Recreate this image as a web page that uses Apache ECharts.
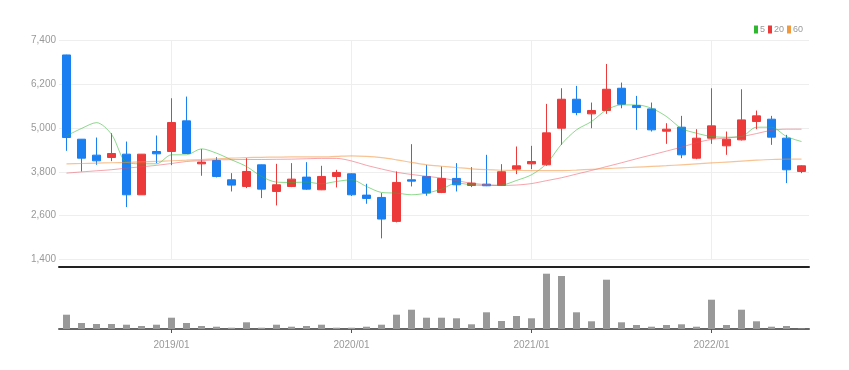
<!DOCTYPE html>
<html>
<head>
<meta charset="utf-8">
<script src="https://cdn.jsdelivr.net/npm/echarts@6/dist/echarts.min.js"></script>
<style>
html,body{margin:0;padding:0;background:#fff;}
#main{width:849px;height:370px;}
</style>
</head>
<body>
<div id="main"></div>
<script>
var months = ['2018/06','2018/07','2018/08','2018/09','2018/10','2018/11','2018/12',
'2019/01','2019/02','2019/03','2019/04','2019/05','2019/06','2019/07','2019/08','2019/09','2019/10','2019/11','2019/12',
'2020/01','2020/02','2020/03','2020/04','2020/05','2020/06','2020/07','2020/08','2020/09','2020/10','2020/11','2020/12',
'2021/01','2021/02','2021/03','2021/04','2021/05','2021/06','2021/07','2021/08','2021/09','2021/10','2021/11','2021/12',
'2022/01','2022/02','2022/03','2022/04','2022/05','2022/06','2022/07'];

var openP  = [7004,4696,4259,4195,4286,3173,4359,4359,5198,4021,4113,3584,3401,3994,3264,3401,3657,3310,3675,3748,3164,3100,2444,3584,3675,3237,3621,3429,3465,3429,3876,4021,3994,4997,5791,5390,5481,6092,5617,5526,4915,5025,4176,4724,4514,4678,5180,5244,4724,3812];
var closeP = [4742,4176,4103,4304,3173,4286,4295,5152,4304,4068,3675,3438,3812,3328,3447,3602,3328,3675,3784,3173,3073,2508,3511,3547,3219,3621,3447,3493,3420,3803,3967,4085,4870,5791,5426,5481,6064,5654,5563,4952,4970,4268,4724,5061,4696,5225,5335,4752,3858,3967];
var lowP   = [4377,3812,3994,4094,2836,3170,4040,3985,4300,3694,3648,3264,3356,3082,2881,3383,3310,3300,3374,3140,2927,1979,2416,3401,3146,3219,3264,3383,3410,3420,3739,3876,3967,4541,5353,4997,5390,5544,4952,4906,4569,4176,4149,4569,4268,4660,4970,4541,3493,3766];
var highP  = [7010,4700,4742,4860,4632,4290,4797,5818,5864,4424,4204,3766,4176,4000,4021,4040,4067,3967,3857,3760,3474,3219,3812,4560,3994,3948,4040,3930,4268,4012,4496,4514,5663,6092,6156,5700,6757,6247,5882,5700,5134,5335,4970,6092,4906,6064,5481,5335,4815,3980];

var ma5  = [4790,4990,5150,4830,4060,4022,4022,4268,4268,4432,4313,4131,3948,3675,3520,3511,3520,3474,3538,3584,3401,3237,3219,3173,3219,3328,3493,3447,3429,3438,3566,3721,4021,4560,4952,5180,5499,5636,5636,5544,5317,4990,4860,4769,4751,4769,5025,5025,4769,4632];
var ma20 = [3766,3800,3830,3860,3903,3940,3980,4030,4085,4110,4130,4135,4140,4140,4145,4150,4160,4170,4170,4100,3980,3880,3790,3730,3680,3630,3560,3490,3450,3430,3440,3480,3560,3640,3740,3840,3945,4050,4160,4265,4370,4478,4600,4690,4730,4770,4850,4940,4970,4970];
var ma60 = [4020,4030,4040,4050,4060,4075,4090,4105,4120,4140,4160,4180,4190,4200,4205,4210,4210,4210,4225,4240,4225,4190,4130,4060,3995,3955,3920,3885,3860,3845,3840,3835,3835,3835,3850,3870,3890,3910,3930,3950,3970,3995,4020,4045,4070,4095,4120,4140,4150,4150];

var volume = [143000,60000,50000,50000,43000,30000,43000,113000,60000,30000,23000,13000,67000,13000,43000,23000,30000,43000,13000,13000,23000,43000,143000,193000,113000,113000,107000,47000,167000,80000,130000,107000,553000,530000,167000,77000,493000,67000,40000,23000,40000,47000,23000,293000,40000,193000,77000,23000,30000,5000];

var yTicks = {min: 1400, max: 7400, interval: 1200};
var legendNames = ['5','20','60'];

var candleData = openP.map(function(o,i){ return [o, closeP[i], lowP[i], highP[i]]; });
var FONT = '"Liberation Sans Narrow", "Liberation Sans", sans-serif';
function isJan(i, v){ return months[i] && months[i].slice(5) === '01'; }
var janLines = months.filter(function(m, i){ return isJan(i); }).map(function(m){ return {xAxis: m}; });

var chart = echarts.init(document.getElementById('main'), null, {renderer:'canvas'});
chart.setOption({
  animation: false,
  backgroundColor: '#fff',
  legend: {
    data: legendNames,
    right: 41, top: 20,
    icon: 'rect', itemWidth: 4, itemHeight: 8, itemGap: 3,
    textStyle: {color: '#999', fontSize: 9, fontFamily: FONT, padding: [0,0,0,-3]}
  },
  grid: [
    {left: 59, right: 40, top: 40.5, height: 219},
    {left: 59, right: 40, top: 272, height: 57}
  ],
  xAxis: [
    {type: 'category', gridIndex: 0, data: months, boundaryGap: true, offset: 7,
     axisLine: {show: true, lineStyle: {color: '#222', width: 2}},
     axisTick: {show: false}, axisLabel: {show: false},
     splitLine: {show: false}},
    {type: 'category', gridIndex: 1, data: months, boundaryGap: true,
     axisLine: {show: true, lineStyle: {color: '#666', width: 2}},
     axisTick: {show: true, interval: isJan, alignWithLabel: true, length: 4, lineStyle: {color: '#555'}},
     axisLabel: {interval: isJan, color: '#999', fontSize: 10, fontFamily: FONT, margin: 11},
     splitLine: {show: false}}
  ],
  yAxis: [
    {type: 'value', gridIndex: 0, min: yTicks.min, max: yTicks.max, interval: yTicks.interval,
     axisLine: {show: false}, axisTick: {show: false},
     axisLabel: {color: '#999', fontSize: 10, fontFamily: FONT, margin: 3,
       formatter: function(v){ return v.toLocaleString('en-US'); }},
     splitLine: {show: true, lineStyle: {color: '#eee'}}},
    {type: 'value', gridIndex: 1, min: 0, max: 570000,
     axisLine: {show: false}, axisTick: {show: false}, axisLabel: {show: false}, splitLine: {show: false}}
  ],
  series: [
    {type: 'candlestick', name: 'price', xAxisIndex: 0, yAxisIndex: 0, data: candleData, barWidth: 8,
     itemStyle: {color: '#ec3a3a', color0: '#1a7ff0', borderColor: '#ec3a3a', borderColor0: '#1a7ff0', borderWidth: 1},
     markLine: {silent: true, symbol: ['none','none'], label: {show: false}, z: 0,
       lineStyle: {color: '#eee', type: 'solid', width: 1}, data: janLines}},
    {type: 'line', name: legendNames[0], xAxisIndex: 0, yAxisIndex: 0, data: ma5, smooth: 0.3, showSymbol: false,
     color: '#2fb82f', lineStyle: {width: 1, color: '#2fb82f', opacity: 0.55}, z: 3},
    {type: 'line', name: legendNames[1], xAxisIndex: 0, yAxisIndex: 0, data: ma20, smooth: 0.3, showSymbol: false,
     color: '#e83a3a', lineStyle: {width: 1, color: '#ec4a5a', opacity: 0.5}, z: 3},
    {type: 'line', name: legendNames[2], xAxisIndex: 0, yAxisIndex: 0, data: ma60, smooth: 0.3, showSymbol: false,
     color: '#f09a40', lineStyle: {width: 1.2, color: '#f0923a', opacity: 0.55}, z: 3},
    {type: 'bar', name: 'volume', xAxisIndex: 1, yAxisIndex: 1, data: volume, barWidth: 7,
     itemStyle: {color: '#999999'}}
  ]
});
</script>
</body>
</html>
